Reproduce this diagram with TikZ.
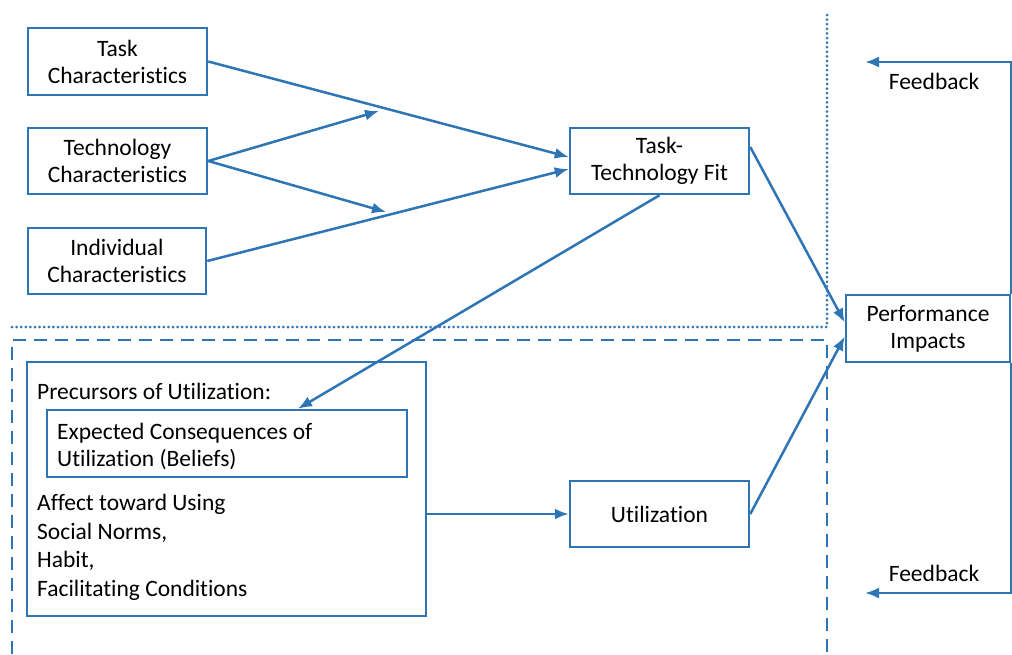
\documentclass[tikz,border=0pt]{standalone}
\usepackage{fontspec}
\setmainfont{Carlito}[Ligatures=NoCommon]
\usetikzlibrary{arrows.meta,positioning}
\definecolor{linkblue}{RGB}{46,117,182}
\tikzset{
  box/.style={draw=linkblue, line width=2.5pt, inner sep=0pt, align=center,
    font=\fontsize{23.5}{27}\selectfont},
  link/.style={draw=linkblue, line width=2.5pt, -{Latex[length=14pt,width=11pt]}},
  txt/.style={inner sep=0pt, align=left, font=\fontsize{23.5}{28.5}\selectfont}
}
\begin{document}
\begin{tikzpicture}[x=1pt,y=-1pt]
  \useasboundingbox (0,0) rectangle (1012,654);

  % upper part
  \node[box, minimum width=179pt, minimum height=67pt] (task) at (117.5,61.5) {Task\\Characteristics};
  \node[box, minimum width=179pt, minimum height=66pt] (tech) at (117.5,161) {Technology\\Characteristics};
  \node[box, minimum width=178pt, minimum height=66pt] (indiv) at (117,261) {Individual\\Characteristics};
  \node[box, minimum width=179pt, minimum height=66pt] (ttf) at (659.5,161) {Task-\\Technology Fit};
  \node[box, minimum width=164pt, minimum height=67pt] (perf) at (928,328.5) {Performance\\Impacts};

  % lower part
  \node[box, minimum width=399pt, minimum height=254pt] (prec) at (226.5,489) {};
  \node[txt, anchor=west] (prectitle) at (37,391) {Precursors of Utilization:};
  \node[box, minimum width=360pt, minimum height=67pt] (belief) at (227,443.5) {};
  \node[txt, anchor=north west, font=\fontsize{23.5}{27}\selectfont] (belieftxt) at (57,422.5) {Expected Consequences of\\Utilization (Beliefs)};
  \node[txt, anchor=north west] (preclist) at (37,494) {Affect toward Using\\Social Norms,\\Habit,\\Facilitating Conditions};
  \node[box, minimum width=179pt, minimum height=66pt] (util) at (659.5,514) {Utilization};

  % free ends
  \coordinate (techup) at (379,111);
  \coordinate (techdown) at (386,212);
  \coordinate (fbtop) at (865,62);
  \coordinate (fbbot) at (865,593);

  % connectors
  \draw[link] (task.east) -- ([yshift=4pt]ttf.west);
  \draw[link] (tech.east) -- (techup);
  \draw[link] (tech.east) -- (techdown);
  \draw[link] (indiv.east) -- ([yshift=-8pt]ttf.west);
  \draw[link] (ttf.south) -- ([xshift=71pt]belief.north);
  \draw[link] ([yshift=14pt]ttf.east) -- ([yshift=6pt]perf.west);
  \draw[link] (util.east) -- ([yshift=-8pt]perf.west);
  \draw[link] (prec.east |- util.west) -- (util.west);
  \draw[link] (perf.north east) |- (fbtop);
  \draw[link] (perf.south east) |- (fbbot);
  \node[txt, anchor=center] (fbtoplabel) at (934,81) {Feedback};
  \node[txt, anchor=center] (fbbotlabel) at (934,573) {Feedback};

  % boundaries
  \draw[linkblue, line width=3pt, dash pattern=on 0pt off 4.6pt, line cap=round]
    (827,15) -- (827,327) -- (12,327);
  \draw[linkblue, line width=2.5pt, dash pattern=on 13pt off 8pt]
    (12,654) -- (12,340) -- (827,340) -- (827,654);
\end{tikzpicture}
\end{document}
